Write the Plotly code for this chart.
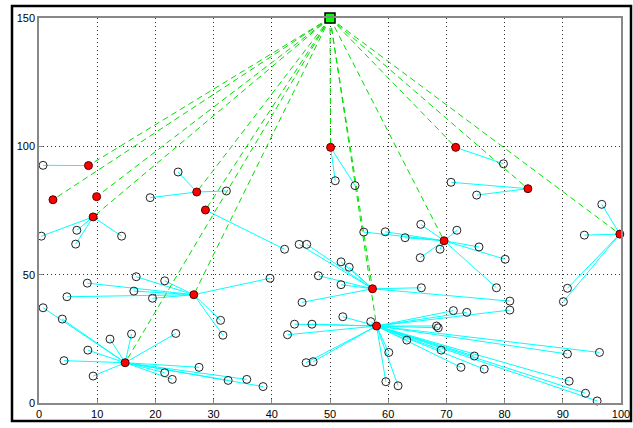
import plotly.graph_objects as go

# Sink (base station)
sink_x = [50.0]
sink_y = [150.0]

# Cluster heads
ch_x = [8.5, 2.4, 9.9, 9.3, 27.1, 28.6, 50.1, 71.6, 84.0, 99.8, 69.6, 57.3, 58.0, 26.6, 14.8]
ch_y = [92.5, 79.2, 80.4, 72.5, 82.2, 75.2, 99.6, 99.6, 83.5, 65.8, 63.2, 44.5, 30.0, 42.2, 15.7]

# Ordinary nodes and the cluster head each belongs to
node_x = [0.7,
          0.4, 6.5, 6.3, 14.2,
          23.9, 19.1, 32.2,
          42.2,
          50.9, 54.3,
          79.8,
          75.2, 70.8,
          96.7, 93.7, 90.8, 90.1,
          75.6, 80.1, 65.6, 71.8, 65.5, 68.9, 55.8, 59.5, 62.9, 78.6,
          48.0, 51.9, 45.2, 51.9, 53.3, 44.7, 46.0, 65.7, 80.9,
          80.9, 71.2, 73.5, 68.3, 68.6, 63.2, 69.1, 74.8, 72.5, 76.5, 60.1, 59.6, 61.7,
          90.8, 96.3, 91.1, 93.9, 95.9, 43.9, 46.9, 42.7, 45.9, 47.1, 52.2, 57.0,
          16.7, 8.3, 16.3, 4.8, 19.5, 21.6, 39.7, 31.2, 31.6,
          0.7, 4.0, 12.2, 15.9, 23.5, 8.4, 4.3, 9.3, 27.5, 21.6, 22.9, 32.5, 35.7, 38.5]
node_y = [92.6,
          65.0, 67.3, 61.9, 65.0,
          90.0, 80.0, 82.6,
          59.9,
          86.6, 84.7,
          93.2,
          81.0, 86.0,
          77.4, 65.4, 44.7, 39.5,
          60.8, 56.0, 69.6, 67.3, 56.6, 59.9, 66.6, 66.7, 64.4, 44.9,
          49.6, 46.1, 39.2, 55.0, 52.9, 61.8, 61.8, 44.9, 39.7,
          36.2, 36.0, 35.3, 30.0, 29.3, 24.5, 20.6, 18.3, 13.9, 13.2, 19.7, 8.3, 6.7,
          19.1, 19.7, 8.5, 3.8, 0.8, 30.7, 30.7, 26.6, 15.7, 16.1, 33.6, 31.7,
          49.2, 46.7, 43.6, 41.4, 40.8, 47.6, 48.6, 32.2, 26.4,
          37.1, 32.7, 24.9, 26.9, 27.1, 20.6, 16.5, 10.5, 13.9, 11.8, 9.2, 8.8, 9.2, 6.4]
node_ch = [0,
           3, 3, 3, 3,
           4, 4, 4,
           5,
           6, 6,
           7,
           8, 8,
           9, 9, 9, 9,
           10, 10, 10, 10, 10, 10, 10, 10, 10, 10,
           11, 11, 11, 11, 11, 11, 11, 11, 11,
           12, 12, 12, 12, 12, 12, 12, 12, 12, 12, 12, 12, 12,
           12, 12, 12, 12, 12, 12, 12, 12, 12, 12, 12, 12,
           13, 13, 13, 13, 13, 13, 13, 13, 13,
           14, 14, 14, 14, 14, 14, 14, 14, 14, 14, 14, 14, 14, 14]

x_ticks = [0, 10, 20, 30, 40, 50, 60, 70, 80, 90, 100]
y_ticks = [0, 50, 100, 150]

# member -> cluster head segments
lx, ly = [], []
for x, y, c in zip(node_x, node_y, node_ch):
    lx += [ch_x[c], x, None]
    ly += [ch_y[c], y, None]

# cluster head -> sink segments
gx, gy = [], []
for x, y in zip(ch_x, ch_y):
    gx += [sink_x[0], x, None]
    gy += [sink_y[0], y, None]

fig = go.Figure()
fig.add_trace(go.Scatter(x=lx, y=ly, mode="lines",
                         line=dict(color="#00FFFF", width=1), hoverinfo="skip"))
fig.add_trace(go.Scatter(x=gx, y=gy, mode="lines",
                         line=dict(color="#00E000", width=1, dash="6px,4px"), hoverinfo="skip"))
fig.add_trace(go.Scatter(x=node_x, y=node_y, mode="markers", cliponaxis=False,
                         marker=dict(symbol="circle-open", size=8, color="#222",
                                     line=dict(width=1, color="#222"))))
fig.add_trace(go.Scatter(x=ch_x, y=ch_y, mode="markers", cliponaxis=False,
                         marker=dict(symbol="circle", size=8, color="#FF0000",
                                     line=dict(width=1, color="#550000"))))
fig.add_trace(go.Scatter(x=sink_x, y=sink_y, mode="markers", cliponaxis=False,
                         marker=dict(symbol="square", size=10, color="#00FF00",
                                     line=dict(width=1.5, color="#000"))))

axis_common = dict(showgrid=True, gridcolor="#333", griddash="1px,3px", gridwidth=1,
                   zeroline=False, showline=True, mirror=True, linecolor="#888",
                   linewidth=1.5, ticks="inside", ticklen=4, tickcolor="#888",
                   automargin=False,
                   tickfont=dict(family="Liberation Sans, Arial, sans-serif", size=11, color="#000"))

fig.update_xaxes(range=[0, 100], tickvals=x_ticks, **axis_common)
fig.update_yaxes(range=[0, 150], tickvals=y_ticks, **axis_common)

# outer window frame
L, R, T, B = 39, 12, 18, 25
W, H = 633, 428
pw, ph = W - L - R, H - T - B
def px(x):
    return (x - L) / pw
def py(y):
    return (H - B - y) / ph
fig.add_shape(type="rect", xref="paper", yref="paper",
              x0=px(12), x1=px(631), y0=py(421), y1=py(6),
              line=dict(color="#000", width=2.5), layer="below")

fig.update_layout(width=W, height=H, margin=dict(l=L, r=R, t=T, b=B, autoexpand=False),
                  paper_bgcolor="white", plot_bgcolor="white", showlegend=False)

fig.write_html("out.html", config={"displayModeBar": False},
               post_script="document.body.style.margin='0';document.body.style.padding='0';document.body.style.overflow='hidden';")
